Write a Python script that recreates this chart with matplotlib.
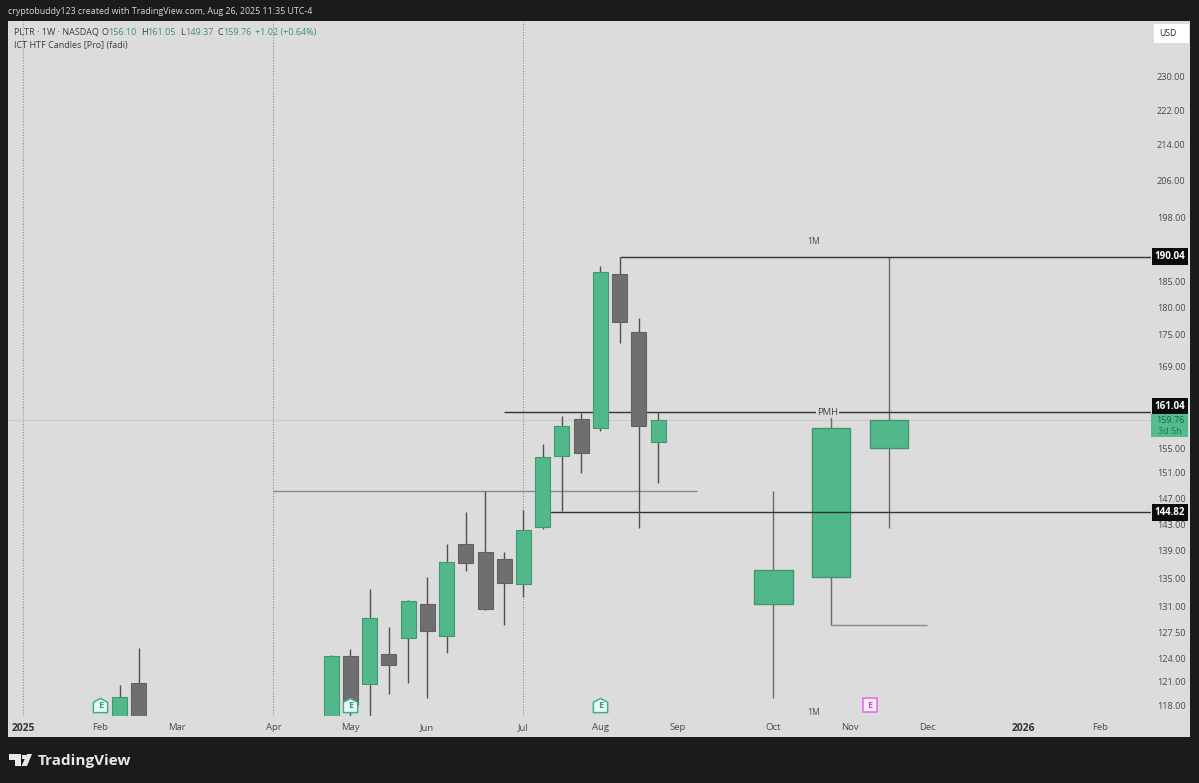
import matplotlib
matplotlib.use("Agg")
import matplotlib.pyplot as plt
from matplotlib.patches import Rectangle, Polygon
from matplotlib.path import Path
from matplotlib.ticker import FixedLocator, FixedFormatter, NullLocator

W, H = 1199, 783
FONT = "Open Sans"
plt.rcParams["font.family"] = [FONT, "DejaVu Sans"]

# --- weekly candles (bar index, open, high, low, close) ---
week_x = [5, 6, 16, 17, 18, 19, 20, 21, 22, 23, 24, 25, 26, 27, 28, 29, 30, 31, 32, 33]
week_open = [116.0, 120.8, 116.0, 124.3, 120.7, 124.6, 126.7, 131.4, 127.0, 140.0, 138.8, 137.8, 134.2, 142.6, 153.7, 159.9, 158.4, 186.5, 175.4, 156.10]
week_close = [119.0, 116.0, 124.3, 118.0, 129.4, 123.1, 131.8, 127.7, 137.4, 137.2, 130.7, 134.3, 142.1, 153.6, 158.7, 154.2, 186.9, 177.3, 158.7, 159.76]
week_high = [120.6, 125.4, 124.5, 125.2, 133.5, 128.2, 131.9, 135.2, 140.0, 144.9, 148.1, 138.8, 145.2, 155.7, 160.4, 161.0, 188.1, 190.04, 178.0, 161.05]
week_low = [116.0, 116.0, 116.0, 116.0, 116.0, 119.4, 120.8, 118.9, 124.7, 136.1, 130.5, 128.5, 132.4, 142.3, 145.0, 151.0, 157.9, 173.4, 142.4, 149.37]

# --- monthly (HTF) candles ---
month_x = [39, 42, 45]
month_open = [131.4, 135.2, 155.1]
month_close = [136.2, 158.4, 159.76]
month_high = [148.2, 161.04, 190.04]
month_low = [118.9, 128.5, 142.4]

# --- levels ---
last_close = 159.76
level_high = 190.04
level_pmh = 161.04
level_mid = 144.82
level_gray = 148.1
level_low = 128.5

# --- axis labels ---
price_ticks = [118, 121, 124, 127.5, 131, 135, 139, 143, 147, 151, 155, 163, 169, 175, 180, 185, 198, 206, 214, 222, 230]
time_ticks = [0, 4, 8, 13, 17, 21, 26, 30, 34, 39, 43, 47, 52, 56]
time_labels = ["2025", "Feb", "Mar", "Apr", "May", "Jun", "Jul", "Aug", "Sep", "Oct", "Nov", "Dec", "2026", "Feb"]
period_lines = [0, 13, 26]
earn_teal = [4, 17, 30]
earn_pink = [44]

BG = "#dcdcdc"
DARK = "#1b1b1b"
GREEN = "#50b88a"
GREEN_E = "#45966f"
GRAY = "#6f6f6f"
WICK = "#505050"
TXT = "#4a4a4a"

fig = plt.figure(figsize=(W / 100, H / 100), dpi=100, facecolor=DARK)


def fx(x):
    return x / W


def fy(y):
    return 1 - y / H


def ftext(x, y, s, **kw):
    kw.setdefault("va", "center")
    kw.setdefault("ha", "left")
    kw.setdefault("fontsize", 6.5)
    kw.setdefault("color", TXT)
    return fig.text(fx(x), fy(y), s, **kw)


fig.add_artist(Rectangle((fx(8), fy(737)), fx(1190 - 8), (737 - 21) / H,
                         transform=fig.transFigure, facecolor=BG, edgecolor="none", zorder=-2))

ax = fig.add_axes([fx(8), fy(716), fx(1151 - 8), (716 - 21) / H])
ax.set_zorder(1)
ax.patch.set_alpha(0)
for s in ax.spines.values():
    s.set_visible(False)
ax.set_yscale("log")
ax.set_xlim(-0.806, 58.634)
ax.set_ylim(116.63, 244.1)
ax.yaxis.tick_right()
ax.yaxis.set_major_locator(FixedLocator(price_ticks))
ax.yaxis.set_major_formatter(FixedFormatter([f"{p:.2f}" for p in price_ticks]))
ax.yaxis.set_minor_locator(NullLocator())
ax.tick_params(axis="y", length=0, pad=4.3, labelsize=6.6, labelcolor=TXT)
ax.set_xticks(time_ticks, time_labels)
ax.tick_params(axis="x", length=0, pad=5, labelsize=6.8, labelcolor=TXT)
for lab, t in zip(ax.get_xticklabels(), time_labels):
    if t.isdigit():
        lab.set_fontweight("bold")
        lab.set_fontsize(7.4)
        lab.set_color("#333333")

for x in period_lines:
    ax.axvline(x, color="#8f8f8f", lw=0.8, ls=(0, (1, 1.5)), zorder=1)

ax.axhline(last_close, color="#c3cfc8", lw=0.8, zorder=1)

# monthly candles under the level lines
ax.vlines(month_x, month_low, month_high, color="#6a6a6a", lw=1.0, zorder=2)
for x, o, c in zip(month_x, month_open, month_close):
    ax.bar(x, abs(c - o), bottom=min(o, c), width=2.0, color=GREEN, edgecolor=GREEN_E,
           lw=1.0, zorder=2.2)

# level lines
ax.hlines(level_gray, 13, 35, color="#8a8a8a", lw=1.0, zorder=2.4)
ax.hlines(level_low, 42, 47, color="#8a8a8a", lw=1.0, zorder=2.4)
ax.hlines(level_pmh, 25, 58.634, color="#333333", lw=1.0, zorder=2.5)
ax.hlines(level_mid, 27, 58.634, color="#333333", lw=1.0, zorder=2.5)
ax.hlines(level_high, 31, 58.634, color="#333333", lw=1.0, zorder=2.5)

# weekly candles
ax.vlines(week_x, week_low, week_high, color=WICK, lw=1.0, zorder=3)
for x, o, c in zip(week_x, week_open, week_close):
    up = c >= o
    ax.bar(x, abs(c - o), bottom=min(o, c), width=0.78,
           color=GREEN if up else GRAY, edgecolor=GREEN_E if up else "#626262",
           lw=0.8, zorder=3.2)

# level captions
ax.text(41.1, 193.2, "1M", fontsize=6.2, color=TXT, ha="center", va="center", zorder=5)
ax.text(41.1, 117.1, "1M", fontsize=6.2, color=TXT, ha="center", va="center", zorder=5)
ax.text(41.8, level_pmh, "PMH", fontsize=6.8, color="#444444", ha="center", va="center", zorder=5,
        bbox=dict(boxstyle="square,pad=0.12", facecolor=BG, edgecolor="none"))

# earnings markers
house = Path([(-1, -1), (1, -1), (1, 0.45), (0, 1), (-1, 0.45), (-1, -1)], closed=True)
for x in earn_teal:
    ax.scatter([x], [118.0], marker=house, s=105, facecolor="#eefaf6", edgecolor="#3bb08f",
               lw=1.1, zorder=6)
    ax.text(x, 117.95, "E", fontsize=6.6, fontweight="bold", color="#2f9d80", ha="center",
            va="center", zorder=7)
for x in earn_pink:
    ax.scatter([x], [118.0], marker="s", s=105, facecolor="#fbeefb", edgecolor="#e86fe8",
               lw=1.2, zorder=6)
    ax.text(x, 117.95, "E", fontsize=6.6, fontweight="bold", color="#c84fd0", ha="center",
            va="center", zorder=7)

# price labels on the scale
trans = ax.get_yaxis_transform()


def price_box(value, dy=0):
    ax.annotate(f"{value:.2f}", xy=(1, value), xycoords=trans, xytext=(19, dy),
                textcoords="offset pixels", ha="center", va="center", fontsize=7,
                fontweight="bold", color="white", zorder=10, annotation_clip=False,
                bbox=dict(boxstyle="square,pad=0.3", facecolor="#0b0b0b", edgecolor="none"))


price_box(level_high)
price_box(level_pmh, dy=6)
price_box(level_mid)

fig.add_artist(Rectangle((fx(1151), fy(437)), fx(37), 23 / H, transform=fig.transFigure,
                         facecolor="#54bb8d", edgecolor="none", zorder=9))
ftext(1170, 420.5, f"{last_close:.2f}", ha="center", color="#0f6a45", zorder=11)
ftext(1170, 431.5, "3d 5h", ha="center", color="#1c7a53", zorder=11)

# USD button
fig.add_artist(Rectangle((fx(1154), fy(43)), fx(35), 19 / H, transform=fig.transFigure,
                         facecolor="white", edgecolor="none", zorder=9))
ftext(1168, 33.5, "USD", ha="center", fontsize=6.2, color="#222222", zorder=11)

# header and legend
ftext(8, 12, "cryptobuddy123 created with TradingView.com, Aug 26, 2025 11:35 UTC-4",
      fontsize=6.37, color="#d8d8d8")
VAL = "#3f8f72"
ftext(14, 32.5, "PLTR · 1W · NASDAQ", color="#3c3c3c")
for x, s, c in [(102, "O", "#3c3c3c"), (108, "156.10", VAL), (141, "H", "#3c3c3c"), (147, "161.05", VAL),
                (180, "L", "#3c3c3c"), (185, "149.37", VAL), (217, "C", "#3c3c3c"), (223, "159.76", VAL),
                (255, "+1.02 (+0.64%)", VAL)]:
    ftext(x, 32.5, s, color=c)
ftext(14, 45.5, "ICT HTF Candles [Pro] (fadi)", color="#3c3c3c")

# TradingView logo
LOGO = "#e8e8e8"


def fxy(x, y):
    return (fx(x), fy(y))


fig.add_artist(Polygon([fxy(9, 754), fxy(21, 754), fxy(21, 766), fxy(15, 766), fxy(15, 760), fxy(9, 760)],
                       closed=True, transform=fig.transFigure, facecolor=LOGO, edgecolor="none"))
fig.add_artist(Polygon([fxy(27, 754), fxy(32, 754), fxy(27, 766), fxy(21.5, 766)],
                       closed=True, transform=fig.transFigure, facecolor=LOGO, edgecolor="none"))
fig.add_artist(Polygon([fxy(22, 754.5), fxy(25.5, 754.5), fxy(25.5, 758.5), fxy(22, 758.5)],
                       closed=True, transform=fig.transFigure, facecolor=LOGO, edgecolor="none"))
ftext(38, 760.5, "TradingView", fontsize=11, fontweight="bold", color=LOGO)

fig.savefig("out.png", dpi=100, facecolor=DARK)
